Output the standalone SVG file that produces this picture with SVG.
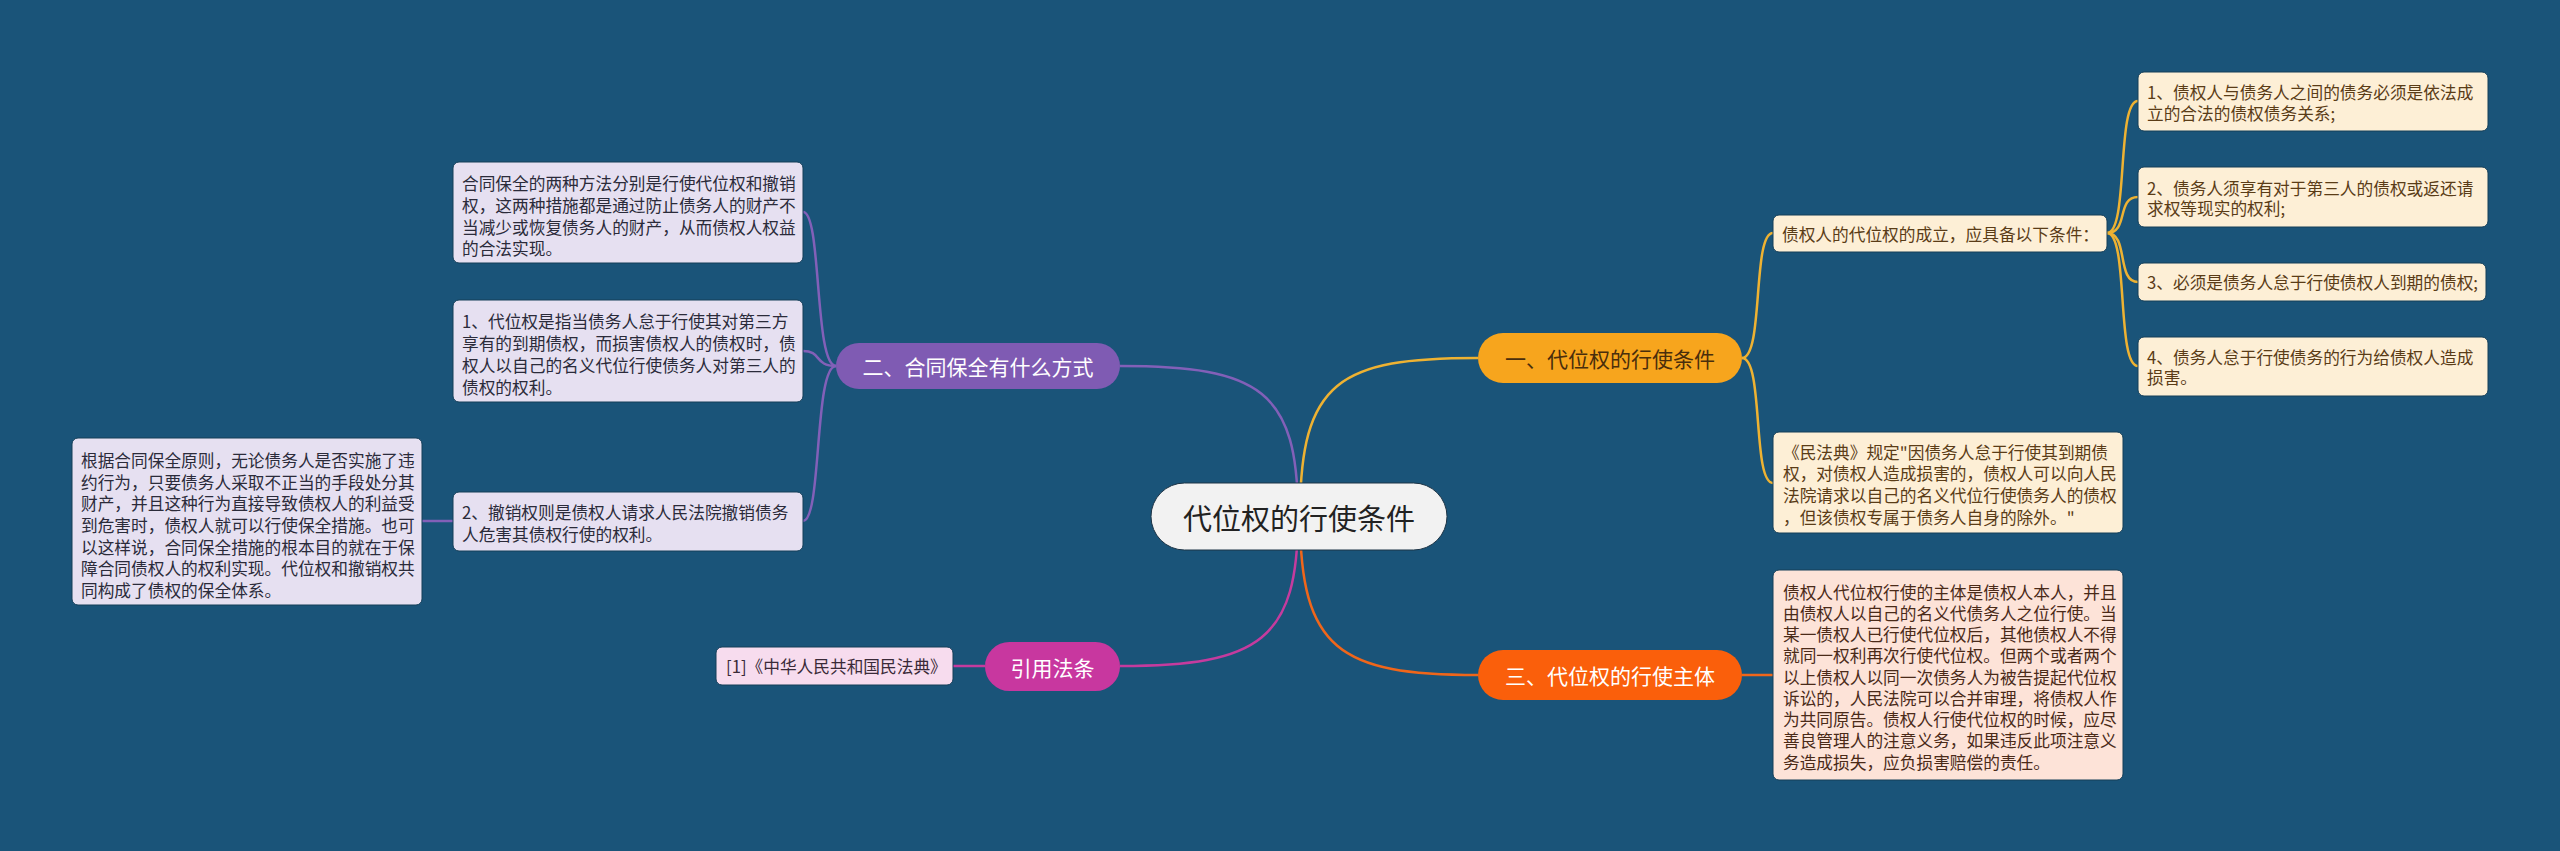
<svg xmlns="http://www.w3.org/2000/svg" width="2560" height="851" viewBox="0 0 2560 851">
<style>
text{font-family:"Noto Sans CJK SC","Noto Sans",sans-serif;dominant-baseline:central}
.leafL rect{fill:#e6e0f1;stroke:#143e58;stroke-width:1}
.leafL text{font-size:16.7px;fill:#2b2b3a}
.leafY rect{fill:#fdefd6;stroke:#143e58;stroke-width:1}
.leafY text{font-size:16.7px;fill:#5a3c17}
.leafO rect{fill:#fde3d8;stroke:#143e58;stroke-width:1}
.leafO text{font-size:16.7px;fill:#4a2a18}
.leafP rect{fill:#f7dcee;stroke:#143e58;stroke-width:1}
.leafP text{font-size:16.7px;fill:#3a2a38}
.br text{font-size:21px;text-anchor:middle}
.c{fill:none;stroke-width:2.5}
.cy{stroke:#eeb232}.cp{stroke:#8260b8}.cm{stroke:#c53b9e}.co{stroke:#f0661a}
</style>
<rect width="2560" height="851" fill="#1a5479"/>
<g id="connectors">
<path class="c cy" d="M1300,516 C1300,380 1340,358 1478,358"/>
<path class="c co" d="M1300,516 C1300,650 1340,675 1478,675"/>
<path class="c cp" d="M1298,516 C1298,390 1260,366 1120,366"/>
<path class="c cm" d="M1298,516 C1298,640 1260,666 1120,666"/>
<path class="c cp" d="M836,366 C814,366 822,212 803,212"/>
<path class="c cp" d="M836,366 C814,366 822,351 803,351"/>
<path class="c cp" d="M836,366 C814,366 822,521 803,521"/>
<path class="c cp" d="M422,521 L453,521"/>
<path class="c cm" d="M953,666 L985,666"/>
<path class="c cy" d="M1742,358 C1764,358 1752,233 1773,233"/>
<path class="c cy" d="M1742,358 C1764,358 1752,483 1773,483"/>
<path class="c cy" d="M2107,233 C2129,233 2116,101 2138,101"/>
<path class="c cy" d="M2107,233 C2129,233 2116,197 2138,197"/>
<path class="c cy" d="M2107,233 C2129,233 2116,282 2138,282"/>
<path class="c cy" d="M2107,233 C2129,233 2116,366 2138,366"/>
<path class="c co" d="M1742,675 L1773,675"/>
</g>
<g id="center">
<rect x="1151" y="483" width="296" height="67" rx="33.5" fill="#f2f2f2" stroke="#1d3446" stroke-width="1"/>
<text x="1299" y="516.5" font-size="29" fill="#222" text-anchor="middle">代位权的行使条件</text>
</g>
<g id="branch1" class="br">
<rect x="1478" y="333" width="264" height="50" rx="25" fill="#f7a51d"/>
<text x="1610" y="358" fill="#4a2e0c">一、代位权的行使条件</text>
</g>
<g id="branch2" class="br">
<rect x="836" y="343" width="284" height="46" rx="23" fill="#7f5bb3"/>
<text x="978" y="366" fill="#ffffff">二、合同保全有什么方式</text>
</g>
<g id="branch3" class="br">
<rect x="1478" y="650" width="264" height="50" rx="25" fill="#fa5f0b"/>
<text x="1610" y="675" fill="#ffffff">三、代位权的行使主体</text>
</g>
<g id="branch4" class="br">
<rect x="985" y="642" width="135" height="49" rx="24.5" fill="#c8379f"/>
<text x="1052.5" y="666.5" fill="#ffffff">引用法条</text>
</g>
<g id="leafA" class="leafL">
<rect x="453" y="162" width="350" height="101" rx="6"/>
<text x="462" y="183">合同保全的两种方法分别是行使代位权和撤销</text>
<text x="462" y="205">权，这两种措施都是通过防止债务人的财产不</text>
<text x="462" y="227">当减少或恢复债务人的财产，从而债权人权益</text>
<text x="462" y="248">的合法实现。</text>
</g>
<g id="leafB" class="leafL">
<rect x="453" y="300" width="350" height="102" rx="6"/>
<text x="462" y="321">1、代位权是指当债务人怠于行使其对第三方</text>
<text x="462" y="343">享有的到期债权，而损害债权人的债权时，债</text>
<text x="462" y="365">权人以自己的名义代位行使债务人对第三人的</text>
<text x="462" y="387">债权的权利。</text>
</g>
<g id="leafC" class="leafL">
<rect x="453" y="492" width="350" height="59" rx="6"/>
<text x="462" y="512">2、撤销权则是债权人请求人民法院撤销债务</text>
<text x="462" y="534">人危害其债权行使的权利。</text>
</g>
<g id="leafD" class="leafL">
<rect x="72" y="438" width="350" height="167" rx="6"/>
<text x="81" y="460">根据合同保全原则，无论债务人是否实施了违</text>
<text x="81" y="482">约行为，只要债务人采取不正当的手段处分其</text>
<text x="81" y="503">财产，并且这种行为直接导致债权人的利益受</text>
<text x="81" y="525">到危害时，债权人就可以行使保全措施。也可</text>
<text x="81" y="547">以这样说，合同保全措施的根本目的就在于保</text>
<text x="81" y="568">障合同债权人的权利实现。代位权和撤销权共</text>
<text x="81" y="590">同构成了债权的保全体系。</text>
</g>
<g id="leafCite" class="leafP">
<rect x="716" y="647" width="237" height="38" rx="6"/>
<text x="726" y="666">[1]《中华人民共和国民法典》</text>
</g>
<g id="leafR0" class="leafY">
<rect x="1773" y="215" width="334" height="37" rx="6"/>
<text x="1782" y="233.5">债权人的代位权的成立，应具备以下条件：</text>
</g>
<g id="leafR1" class="leafY">
<rect x="2138" y="72" width="350" height="59" rx="6"/>
<text x="2147" y="92">1、债权人与债务人之间的债务必须是依法成</text>
<text x="2147" y="113">立的合法的债权债务关系;</text>
</g>
<g id="leafR2" class="leafY">
<rect x="2138" y="167" width="350" height="60" rx="6"/>
<text x="2147" y="188">2、债务人须享有对于第三人的债权或返还请</text>
<text x="2147" y="208">求权等现实的权利;</text>
</g>
<g id="leafR3" class="leafY">
<rect x="2138" y="263" width="348" height="38" rx="6"/>
<text x="2147" y="282">3、必须是债务人怠于行使债权人到期的债权;</text>
</g>
<g id="leafR4" class="leafY">
<rect x="2138" y="337" width="350" height="59" rx="6"/>
<text x="2147" y="357">4、债务人怠于行使债务的行为给债权人造成</text>
<text x="2147" y="377">损害。</text>
</g>
<g id="leafR5" class="leafY">
<rect x="1773" y="432" width="350" height="101" rx="6"/>
<text x="1783" y="452">《民法典》规定"因债务人怠于行使其到期债</text>
<text x="1783" y="473">权，对债权人造成损害的，债权人可以向人民</text>
<text x="1783" y="495">法院请求以自己的名义代位行使债务人的债权</text>
<text x="1783" y="517">，但该债权专属于债务人自身的除外。"</text>
</g>
<g id="leafR6" class="leafO">
<rect x="1773" y="570" width="350" height="210" rx="6"/>
<text x="1783" y="592">债权人代位权行使的主体是债权人本人，并且</text>
<text x="1783" y="613">由债权人以自己的名义代债务人之位行使。当</text>
<text x="1783" y="634">某一债权人已行使代位权后，其他债权人不得</text>
<text x="1783" y="655">就同一权利再次行使代位权。但两个或者两个</text>
<text x="1783" y="677">以上债权人以同一次债务人为被告提起代位权</text>
<text x="1783" y="698">诉讼的，人民法院可以合并审理，将债权人作</text>
<text x="1783" y="719">为共同原告。债权人行使代位权的时候，应尽</text>
<text x="1783" y="740">善良管理人的注意义务，如果违反此项注意义</text>
<text x="1783" y="762">务造成损失，应负损害赔偿的责任。</text>
</g>
</svg>
